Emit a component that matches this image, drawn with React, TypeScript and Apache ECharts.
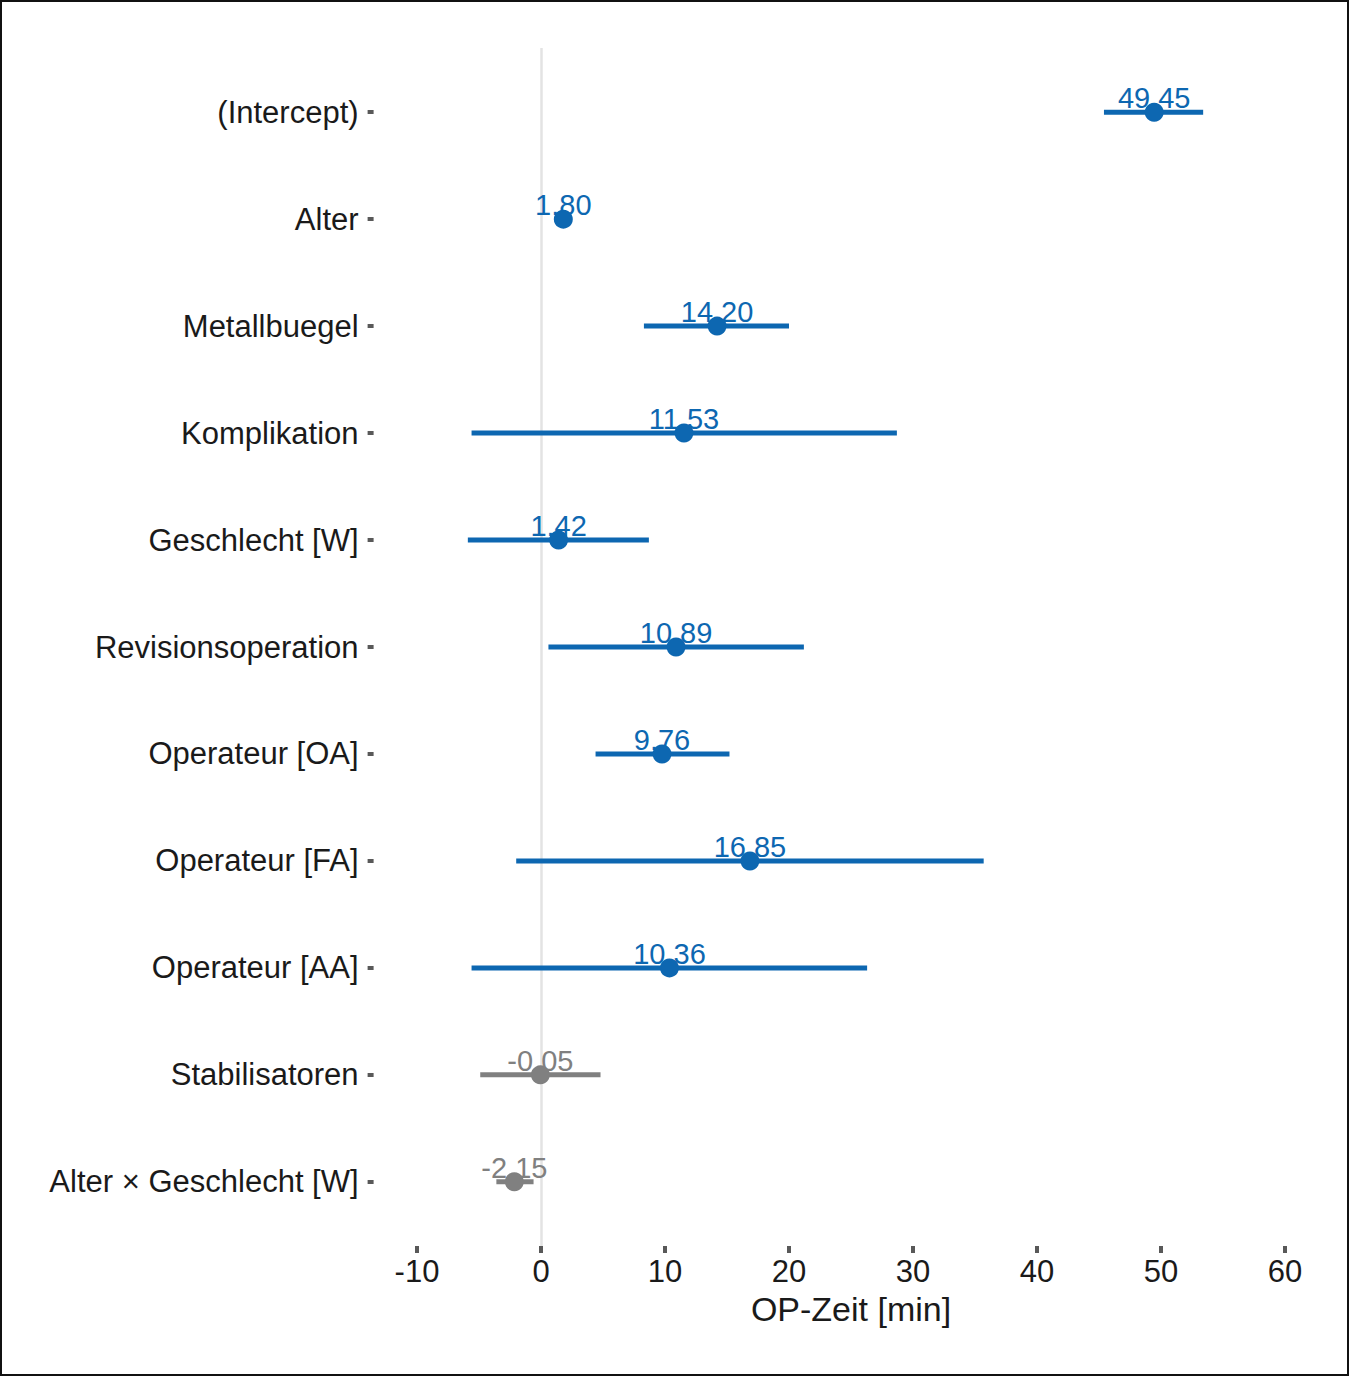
import React, { useEffect, useRef } from "react";
import * as echarts from "echarts";

const terms = [
  "(Intercept)",
  "Alter",
  "Metallbuegel",
  "Komplikation",
  "Geschlecht [W]",
  "Revisionsoperation",
  "Operateur [OA]",
  "Operateur [FA]",
  "Operateur [AA]",
  "Stabilisatoren",
  "Alter × Geschlecht [W]",
];
const estimates = [49.45, 1.8, 14.2, 11.53, 1.42, 10.89, 9.76, 16.85, 10.36, -0.05, -2.15];
const ciLow = [45.4, 1.1, 8.3, -5.6, -5.9, 0.6, 4.4, -2.0, -5.6, -4.9, -3.6];
const ciHigh = [53.4, 2.5, 20.0, 28.7, 8.7, 21.2, 15.2, 35.7, 26.3, 4.8, -0.6];
const significant = [true, true, true, true, true, true, true, true, true, false, false];
const xTicks = [-10, 0, 10, 20, 30, 40, 50, 60];
const rowIdx = terms.map((_, i) => i);

const BLUE = "#0d67b1";
const GRAY = "#808080";
const FONT = "'Liberation Sans', Arial, sans-serif";

export default function App() {
  const ref = useRef<HTMLDivElement>(null);
  useEffect(() => {
    if (!ref.current) return;
    const chart = echarts.init(ref.current, null, { renderer: "svg" });
    const colorOf = (i: number) => (significant[i] ? BLUE : GRAY);
    const option = {
      animation: false,
      backgroundColor: "#ffffff",
      textStyle: { fontFamily: FONT },
      grid: { left: 373.6, top: 48, width: 954.8, height: 1198, containLabel: false },
      xAxis: {
        type: "value",
        min: -13.5,
        max: 63.5,
        name: "OP-Zeit [min]",
        nameLocation: "middle",
        nameGap: 46,
        nameTextStyle: { fontSize: 34, color: "#1a1a1a", fontFamily: FONT },
        axisLine: { show: false, onZero: false },
        splitLine: { show: false },
        axisTick: {
          show: true,
          customValues: xTicks,
          length: 7,
          lineStyle: { color: "#595959", width: 4 },
        },
        axisLabel: {
          customValues: xTicks,
          fontSize: 31,
          color: "#1a1a1a",
          margin: 10,
          fontFamily: FONT,
        },
      },
      yAxis: {
        type: "value",
        min: -0.6,
        max: 10.6,
        inverse: true,
        axisLine: { show: false, onZero: false },
        splitLine: { show: false },
        axisTick: {
          show: true,
          customValues: rowIdx,
          length: 6,
          lineStyle: { color: "#595959", width: 4 },
        },
        axisLabel: {
          customValues: rowIdx,
          fontSize: 31,
          color: "#1a1a1a",
          margin: 15,
          fontFamily: FONT,
          formatter: (v: number) => terms[Math.round(v)] ?? "",
        },
      },
      series: [
        {
          type: "custom",
          z: 1,
          encode: { x: [0, 1], y: 2 },
          data: rowIdx.map((i) => [ciLow[i], ciHigh[i], i]),
          renderItem: (params: any, api: any) => {
            const i = api.value(2);
            const p1 = api.coord([api.value(0), i]);
            const p2 = api.coord([api.value(1), i]);
            return {
              type: "line",
              shape: { x1: p1[0], y1: p1[1], x2: p2[0], y2: p2[1] },
              style: { stroke: colorOf(i), lineWidth: 5 },
            };
          },
          markLine: {
            silent: true,
            symbol: "none",
            label: { show: false },
            lineStyle: { color: "#e3e3e3", width: 2.5, type: "solid" },
            data: [{ xAxis: 0 }],
            z: 0,
          },
        },
        {
          type: "scatter",
          z: 2,
          symbolSize: 0,
          itemStyle: { opacity: 1 },
          data: rowIdx.map((i) => ({
            value: [estimates[i], i],
            label: { color: colorOf(i) },
          })),
          label: {
            show: true,
            position: "inside",
            offset: [0, -14],
            fontSize: 29,
            opacity: 1,
            fontFamily: FONT,
            formatter: (p: any) => estimates[p.dataIndex].toFixed(2),
          },
          silent: true,
        },
        {
          type: "scatter",
          z: 3,
          symbol: "circle",
          symbolSize: 19,
          itemStyle: { opacity: 1 },
          data: rowIdx.map((i) => ({
            value: [estimates[i], i],
            itemStyle: { color: colorOf(i), opacity: 1 },
          })),
          silent: true,
        },
      ],
    };
    chart.setOption(option as any);
    return () => chart.dispose();
  }, []);

  return (
    <div style={{ position: "absolute", left: 0, top: 0, width: 1349, height: 1376, background: "#fff" }}>
      <div ref={ref} style={{ position: "absolute", left: 0, top: 0, width: 1349, height: 1376 }} />
      <div
        style={{
          position: "absolute",
          left: 0,
          top: 0,
          width: 1349,
          height: 1376,
          boxSizing: "border-box",
          border: "2px solid #111",
          pointerEvents: "none",
        }}
      />
    </div>
  );
}
